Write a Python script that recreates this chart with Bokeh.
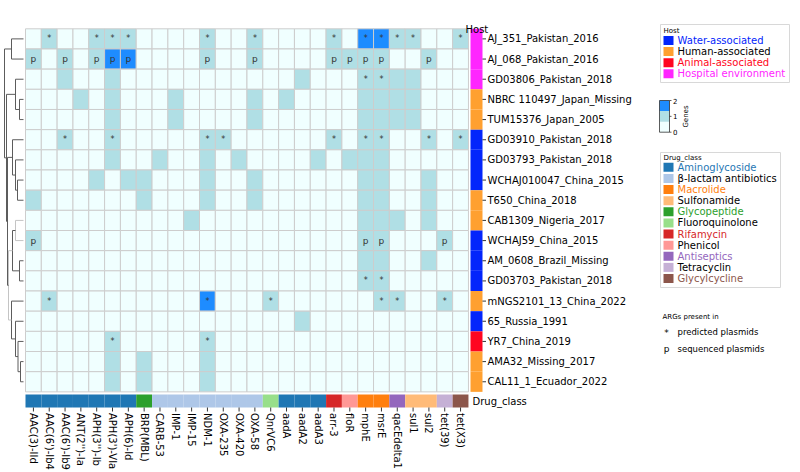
import math
from bokeh.plotting import figure
from bokeh.models import Range1d
from bokeh.core.properties import value
from bokeh.embed import file_html
from bokeh.resources import INLINE

# ---------------- data ----------------
genes = ["AAC(3)-IId", "AAC(6')-Ib4", "AAC(6')-Ib9", "ANT(2'')-Ia", "APH(3'')-Ib",
         "APH(3')-VIa", "APH(6)-Id", "BRP(MBL)", "CARB-53", "IMP-1", "IMP-15", "NDM-1",
         "OXA-235", "OXA-420", "OXA-58", "QnrVC6", "aadA", "aadA2", "aadA3", "arr-3",
         "floR", "mphE", "msrE", "qacEdelta1", "sul1", "sul2", "tet(39)", "tet(X3)"]

gene_class = (["Aminoglycoside"] * 7 + ["Glycopeptide"] + ["β-lactam antibiotics"] * 7 +
              ["Fluoroquinolone"] + ["Aminoglycoside"] * 3 +
              ["Rifamycin", "Phenicol", "Macrolide", "Macrolide", "Antiseptics",
               "Sulfonamide", "Sulfonamide", "Tetracyclin", "Glycylcycline"])

samples = ["AJ_351_Pakistan_2016", "AJ_068_Pakistan_2016", "GD03806_Pakistan_2018",
           "NBRC 110497_Japan_Missing", "TUM15376_Japan_2005", "GD03910_Pakistan_2018",
           "GD03793_Pakistan_2018", "WCHAJ010047_China_2015", "T650_China_2018",
           "CAB1309_Nigeria_2017", "WCHAJ59_China_2015", "AM_0608_Brazil_Missing",
           "GD03703_Pakistan_2018", "mNGS2101_13_China_2022", "65_Russia_1991",
           "YR7_China_2019", "AMA32_Missing_2017", "CAL11_1_Ecuador_2022"]

sample_host = (["Hospital environment"] * 3 + ["Human-associated"] * 2 +
               ["Water-associated"] * 3 + ["Human-associated"] * 2 +
               ["Water-associated"] * 3 +
               ["Human-associated", "Water-associated", "Animal-associated",
                "Human-associated", "Human-associated"])

counts = [
    [0,1,0,0,1,1,1,0,0,0,0,1,0,0,1,0,0,0,0,1,0,2,2,1,1,0,0,1],
    [1,0,1,0,1,2,2,0,0,0,0,1,0,0,1,0,0,0,0,1,1,1,1,0,0,1,0,0],
    [0,0,1,0,0,1,0,0,0,0,0,0,0,0,0,0,0,1,0,0,0,1,1,1,1,0,0,0],
    [0,0,0,1,0,1,0,0,0,1,0,0,0,0,1,0,1,0,0,0,0,1,1,1,1,0,0,0],
    [0,0,0,0,0,1,0,0,0,1,0,0,0,0,1,0,0,0,0,0,0,1,1,1,1,0,0,0],
    [0,0,1,0,0,1,0,0,0,0,0,1,1,0,0,0,0,0,0,1,0,1,1,0,0,1,0,1],
    [0,0,0,0,0,1,0,0,1,0,0,1,0,1,0,0,0,0,1,0,1,1,1,0,0,0,0,0],
    [0,0,0,0,1,0,1,1,0,0,0,1,0,0,1,0,0,0,0,0,0,1,1,0,0,1,0,0],
    [1,0,0,0,0,0,0,1,0,0,0,1,0,0,1,0,0,0,0,0,0,1,1,0,0,1,0,0],
    [0,0,0,0,0,0,0,0,0,0,1,0,0,0,0,0,0,0,0,0,0,1,1,1,0,1,0,0],
    [1,0,0,0,0,0,0,0,0,0,0,0,0,0,0,0,0,0,0,0,0,1,1,0,0,0,1,0],
    [0,0,0,0,0,0,0,0,0,0,0,0,0,0,0,0,0,0,0,0,0,1,1,0,0,1,0,0],
    [0,0,0,0,0,0,0,0,0,0,0,0,0,0,0,0,0,0,0,0,0,1,1,0,0,0,0,0],
    [0,1,0,0,0,0,0,0,0,0,0,2,0,0,0,1,0,0,0,0,0,0,1,1,0,0,1,0],
    [0,0,0,0,0,0,0,0,0,0,0,0,0,0,0,0,0,1,0,0,0,0,0,0,0,0,0,0],
    [0,0,0,0,0,1,0,0,0,0,0,1,0,0,0,0,0,0,0,0,0,0,0,0,0,0,0,0],
    [0,0,0,0,0,1,0,1,0,0,0,1,0,0,0,0,0,0,0,0,0,0,0,0,0,0,0,0],
    [0,0,0,0,0,1,0,1,0,0,0,1,0,0,0,0,0,0,0,0,0,0,0,0,0,0,0,0],
]

# plasmid marks per sample: symbol and 1-based gene positions
mark_symbol = ["*", "p", "*", "", "", "*", "", "", "", "", "p", "", "*", "*", "", "*", "", ""]
mark_genes = [
    [2, 5, 6, 7, 12, 15, 20, 22, 23, 24, 25, 28],
    [1, 3, 5, 6, 7, 12, 15, 20, 21, 22, 23, 26],
    [22, 23], [], [],
    [3, 6, 12, 13, 20, 22, 23, 26, 28],
    [], [], [], [],
    [1, 22, 23, 27],
    [],
    [22, 23],
    [2, 12, 16, 23, 24, 27],
    [],
    [6, 12],
    [], [],
]

# dendrogram merges (scipy-like: leaves 0..17, new clusters numbered from 18)
dendro_merges = [
    (0, 1, 12.0), (3, 4, 4.0), (2, 19, 8.0), (7, 8, 6.0), (6, 21, 8.0),
    (5, 22, 11.0), (9, 10, 8.0), (11, 12, 4.0), (24, 25, 11.0), (16, 17, 3.0),
    (15, 27, 5.5), (14, 28, 8.0), (13, 29, 12.0), (26, 30, 15.0), (23, 31, 16.0),
    (20, 32, 17.0), (18, 33, 19.0),
]
dendro_light = [6, 13]

drug_classes = ["Aminoglycoside", "β-lactam antibiotics", "Macrolide", "Sulfonamide",
                "Glycopeptide", "Fluoroquinolone", "Rifamycin", "Phenicol",
                "Antiseptics", "Tetracyclin", "Glycylcycline"]
drug_colors = ["#1f77b4", "#aec7e8", "#ff7f0e", "#ffbb78", "#2ca02c", "#98df8a",
               "#d62728", "#ff9896", "#9467bd", "#c5b0d5", "#8c564b"]
drug_text_colors = ["#1f77b4", "#000000", "#ff7f0e", "#000000", "#2ca02c", "#000000",
                    "#d62728", "#000000", "#9467bd", "#000000", "#8c564b"]

host_names = ["Water-associated", "Human-associated", "Animal-associated", "Hospital environment"]
host_colors = ["#0325fb", "#ffa030", "#ff0520", "#ff25ff"]
host_text_colors = ["#0325fb", "#000000", "#ff0520", "#ff25ff"]

count_ticks = [0, 1, 2]
count_colors = ["#f0ffff", "#b0dfe5", "#1e8cff"]

# ---------------- layout helpers (page pixels -> data units) ----------------
W, H = 800, 472
CW = 15.82
RH = 20.17
GX = 25.0
GY = 28.3
N = len(samples)
M = len(genes)


def X(px):
    return (px - GX) / CW


def Y(py):
    return N - (py - GY) / RH


def yc(r):
    return N - r - 0.5


FONT = value("DejaVu Sans")

p = figure(width=W, height=H, x_range=Range1d(X(0), X(W)),
           y_range=Range1d(Y(H), Y(0)), output_backend="svg",
           toolbar_location=None, min_border=0,
           x_axis_location=None, y_axis_location=None)
p.grid.visible = False
p.outline_line_color = None
p.background_fill_color = "white"
p.border_fill_color = "white"

# ---- heatmap cells ----
cx, cy, cc = [], [], []
for r, row in enumerate(counts):
    for c, v in enumerate(row):
        cx.append(c + 0.5)
        cy.append(yc(r))
        cc.append(count_colors[v])
p.rect(x=cx, y=cy, width=1, height=1, fill_color=cc, line_color="#cdcdcd", line_width=1)

# ---- marks ----
for sym, size in (("*", "8px"), ("p", "9px")):
    mx, my = [], []
    for r in range(N):
        if mark_symbol[r] == sym:
            for g in mark_genes[r]:
                mx.append(g - 0.5)
                my.append(yc(r))
    p.text(x=mx, y=my, text=[sym] * len(mx), text_font=FONT, text_font_size=size,
           text_align="center", text_baseline="middle", text_color="#333333")

# ---- drug class bar ----
p.quad(left=[c for c in range(M)], right=[c + 1 for c in range(M)],
       top=Y(394), bottom=Y(407),
       fill_color=[drug_colors[drug_classes.index(k)] for k in gene_class], line_color=None)
p.text(x=[X(472)], y=[Y(400.5)], text=["Drug_class"], text_font=FONT,
       text_font_size="10px", text_baseline="middle", text_align="left")

# gene ticks and labels
p.segment(x0=[c + 0.5 for c in range(M)], y0=Y(407), x1=[c + 0.5 for c in range(M)],
          y1=Y(411), line_color="black", line_width=0.8)
p.text(x=[c + 0.5 for c in range(M)], y=Y(412.5), text=genes, angle=-math.pi / 2,
       text_font=FONT, text_font_size="10px", text_align="left", text_baseline="middle")

# ---- host bar ----
p.quad(left=X(470), right=X(482), top=[N - r for r in range(N)],
       bottom=[N - r - 1 for r in range(N)],
       fill_color=[host_colors[host_names.index(h)] for h in sample_host], line_color=None)
p.text(x=[X(465)], y=[Y(29)], text=["Host"], text_font=FONT, text_font_size="10px",
       text_baseline="alphabetic", text_align="left")

# sample ticks and labels
p.segment(x0=X(482), y0=[yc(r) for r in range(N)], x1=X(485.5),
          y1=[yc(r) for r in range(N)], line_color="black", line_width=0.8)
p.text(x=X(487), y=[yc(r) for r in range(N)], text=samples, text_font=FONT,
       text_font_size="10px", text_align="left", text_baseline="middle")

# ---- dendrogram ----
H_MAX = max(m[2] for m in dendro_merges)


def dx(h):
    return X(23 + (4 - 23) * h / H_MAX)


pos = {i: (0.0, yc(i)) for i in range(N)}
for k, (a, b, h) in enumerate(dendro_merges):
    ha, ya = pos[a]
    hb, yb = pos[b]
    col = "#c4c4c4" if k in dendro_light else "#5c5c5c"
    p.line(x=[dx(ha), dx(h), dx(h), dx(hb)], y=[ya, ya, yb, yb], line_color=col, line_width=1)
    pos[N + k] = (h, (ya + yb) / 2)

# ---- host legend ----
p.quad(left=X(660), right=X(789), top=Y(24), bottom=Y(82), fill_color="white",
       line_color="#d8d8d8", line_width=1)
p.text(x=[X(663)], y=[Y(30)], text=["Host"], text_font=FONT, text_font_size="7px",
       text_baseline="middle")
hy = [40 + 11.1 * i for i in range(len(host_names))]
p.quad(left=X(663), right=X(673), top=[Y(v - 4.5) for v in hy], bottom=[Y(v + 4.5) for v in hy],
       fill_color=host_colors, line_color=None)
p.text(x=X(677), y=[Y(v) for v in hy], text=host_names, text_color=host_text_colors,
       text_font=FONT, text_font_size="10px", text_baseline="middle")

# ---- colour bar ----
CB_TOP, CB_BOT = 100.0, 131.7
nb = len(count_colors)
step = (CB_BOT - CB_TOP) / nb
p.quad(left=X(659), right=X(669),
       top=[Y(CB_BOT - step * (i + 1)) for i in range(nb)],
       bottom=[Y(CB_BOT - step * i) for i in range(nb)],
       fill_color=count_colors, line_color=None)
p.quad(left=X(659), right=X(669), top=Y(CB_TOP), bottom=Y(CB_BOT), fill_color=None,
       line_color="#333333", line_width=0.8)
tick_py = [CB_BOT - (CB_BOT - CB_TOP) * t / max(count_ticks) for t in count_ticks]
p.segment(x0=X(669), x1=X(671), y0=[Y(v) for v in tick_py], y1=[Y(v) for v in tick_py],
          line_color="#333333", line_width=0.8)
p.text(x=X(672.5), y=[Y(v) for v in tick_py], text=[str(t) for t in count_ticks],
       text_font=FONT, text_font_size="7px", text_baseline="middle")
p.text(x=[X(685)], y=[Y(116)], text=["Genes"], angle=math.pi / 2, text_font=FONT,
       text_font_size="7px", text_align="center", text_baseline="middle")

# ---- drug class legend ----
p.quad(left=X(660), right=X(780), top=Y(152), bottom=Y(287), fill_color="white",
       line_color="#d8d8d8", line_width=1)
p.text(x=[X(663)], y=[Y(157.5)], text=["Drug_class"], text_font=FONT, text_font_size="7px",
       text_baseline="middle")
dy = [166.8 + 11.12 * i for i in range(len(drug_classes))]
p.quad(left=X(663), right=X(673), top=[Y(v - 4.5) for v in dy], bottom=[Y(v + 4.5) for v in dy],
       fill_color=drug_colors, line_color=None)
p.text(x=X(677), y=[Y(v) for v in dy], text=drug_classes, text_color=drug_text_colors,
       text_font=FONT, text_font_size="10px", text_baseline="middle")

# ---- plasmid legend ----
p.text(x=[X(662)], y=[Y(316.5)], text=["ARGs present in"], text_font=FONT,
       text_font_size="7px", text_baseline="middle")
p.text(x=[X(666), X(666)], y=[Y(332), Y(348)], text=["*", "p"], text_font=FONT,
       text_font_size="9px", text_align="center", text_baseline="middle")
p.text(x=[X(677), X(677)], y=[Y(331.5), Y(348)], text=["predicted plasmids", "sequenced plasmids"],
       text_font=FONT, text_font_size="8.5px", text_baseline="middle")

open("out.html", "w").write(file_html(p, INLINE))
